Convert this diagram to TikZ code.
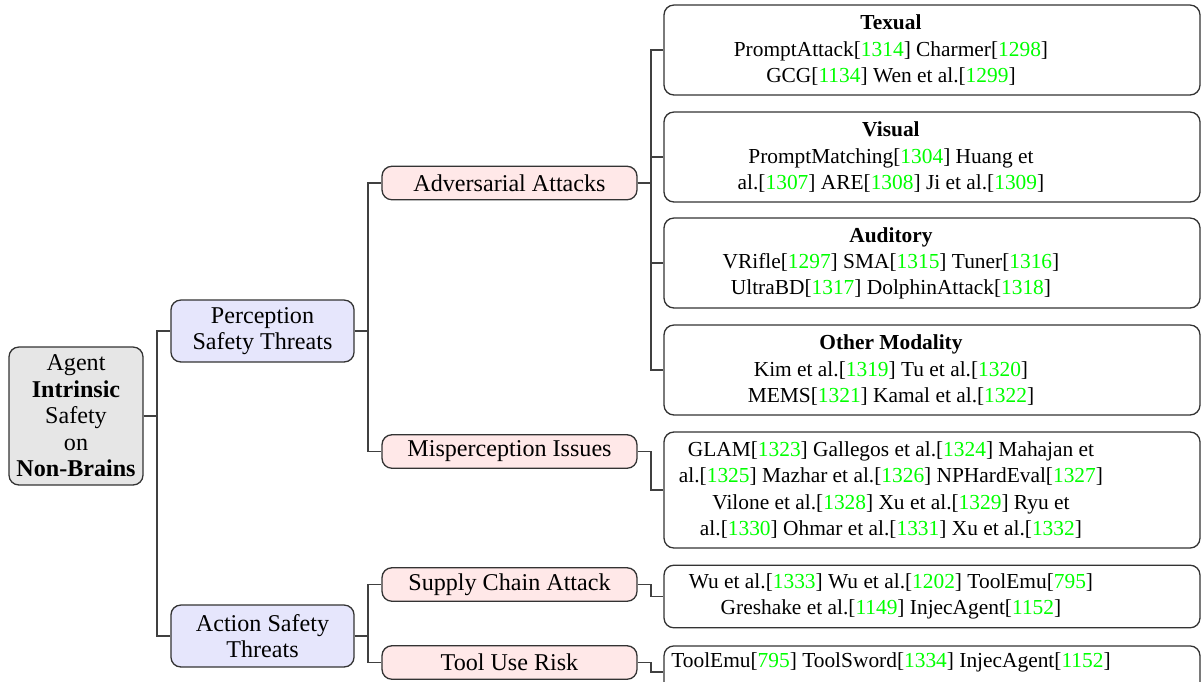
\documentclass[tikz,border=0pt]{standalone}
\usepackage{fontspec}
\setmainfont{Liberation Serif}
\definecolor{citeg}{RGB}{0,255,0}
\definecolor{rootfill}{RGB}{230,230,230}
\definecolor{lvonefill}{RGB}{230,230,252}
\definecolor{lvtwofill}{RGB}{255,232,232}
\newcommand{\refc}[1]{[\textcolor{citeg}{#1}]}
\newcommand{\leaftext}[1]{\parbox{209pt}{\centering #1}\rule{37.8pt}{0pt}}
\begin{document}
\begin{tikzpicture}[x=0.4605pt,y=-0.4605pt,
  base/.style={draw=black!80, line width=0.6pt, rounded corners=4.5pt, align=center,
    inner sep=0pt, font=\fontsize{10}{12}\selectfont},
  inner/.style={base, font=\fontsize{11.1}{12.2}\selectfont},
  rootbox/.style={inner, fill=rootfill, minimum width=61.7pt, minimum height=63.5pt},
  lvone/.style={inner, fill=lvonefill, minimum width=84.3pt, minimum height=28.5pt},
  lvtwo/.style={inner, fill=lvtwofill, minimum width=117.4pt, minimum height=15.4pt},
  leafbox/.style={draw=black!80, line width=0.6pt, rounded corners=4.5pt,
    inner sep=0pt, font=\fontsize{9.85}{12}\selectfont, fill=white, minimum width=246.8pt},
  link/.style={draw=black!75, line width=0.6pt}]
\useasboundingbox (0,0) rectangle (1201,681);

% fork x positions
\coordinate (fa) at (157,0);
\coordinate (fb) at (368,0);
\coordinate (fc) at (651,0);

\node[rootbox] (root) at (76,416) {Agent\\\textbf{Intrinsic}\\Safety\\on\\\textbf{Non-Brains}};

\node[lvone] (perc) at (262.5,331) {Perception\\Safety Threats};
\node[lvone] (act) at (262.5,636) {Action Safety\\Threats};

\node[lvtwo] (adv) at (509.5,183) {Adversarial Attacks};
\node[lvtwo] (mis) at (509.5,451.5) {Misperception Issues};
\node[lvtwo] (sup) at (509.5,584.5) {Supply Chain Attack};
\node[lvtwo] (tool) at (509.5,662.5) {Tool Use Risk};

\node[leafbox, minimum height=41.4pt] (tex) at (932,50)
  {\leaftext{\textbf{Texual}\\PromptAttack\refc{1314} Charmer\refc{1298}\\GCG\refc{1134} Wen et al.\refc{1299}}};
\node[leafbox, minimum height=41.4pt] (vis) at (932,157)
  {\leaftext{\textbf{Visual}\\PromptMatching\refc{1304} Huang et\\al.\refc{1307} ARE\refc{1308} Ji et al.\refc{1309}}};
\node[leafbox, minimum height=41.4pt] (aud) at (932,263)
  {\leaftext{\textbf{Auditory}\\VRifle\refc{1297} SMA\refc{1315} Tuner\refc{1316}\\UltraBD\refc{1317} DolphinAttack\refc{1318}}};
\node[leafbox, minimum height=41.4pt] (oth) at (932,370)
  {\leaftext{\textbf{Other Modality}\\Kim et al.\refc{1319} Tu et al.\refc{1320}\\MEMS\refc{1321} Kamal et al.\refc{1322}}};
\node[leafbox, minimum height=53.4pt] (misl) at (932,490)
  {\leaftext{GLAM\refc{1323} Gallegos et al.\refc{1324} Mahajan et\\al.\refc{1325} Mazhar et al.\refc{1326} NPHardEval\refc{1327}\\Vilone et al.\refc{1328} Xu et al.\refc{1329} Ryu et\\al.\refc{1330} Ohmar et al.\refc{1331} Xu et al.\refc{1332}}};
\node[leafbox, minimum height=28.8pt] (supl) at (932,596.5)
  {\leaftext{Wu et al.\refc{1333} Wu et al.\refc{1202} ToolEmu\refc{795}\\Greshake et al.\refc{1149} InjecAgent\refc{1152}}};
\node[leafbox, minimum height=24pt] (tooll) at (932,672)
  {\raisebox{4.3pt}[7.5pt][2.5pt]{\leaftext{ToolEmu\refc{795} ToolSword\refc{1334} InjecAgent\refc{1152}}}};

% connectors
\foreach \c in {perc,act}
  \draw[link] (root.east) -- (root.east -| fa) |- (\c.west);
\foreach \c in {adv,mis}
  \draw[link] (perc.east) -- (perc.east -| fb) |- (\c.west);
\foreach \c in {sup,tool}
  \draw[link] (act.east) -- (act.east -| fb) |- (\c.west);
\foreach \c in {tex,vis,aud,oth}
  \draw[link] (adv.east) -- (adv.east -| fc) |- (\c.west);
\draw[link] (mis.east) -- (mis.east -| fc) |- (misl.west);
\draw[link] (sup.east) -- (sup.east -| fc) |- (supl.west);
\draw[link] (tool.east) -- (tool.east -| fc) |- (tooll.west);
\end{tikzpicture}
\end{document}
